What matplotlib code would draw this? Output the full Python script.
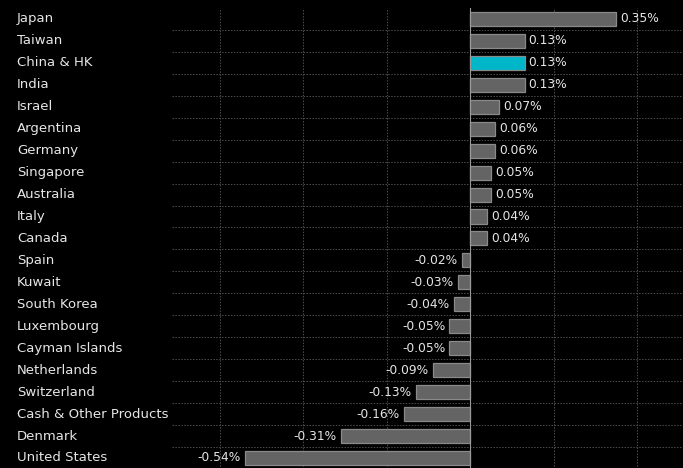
import matplotlib
matplotlib.use("Agg")
import matplotlib.pyplot as plt
import matplotlib.transforms as mtransforms

categories = ["Japan", "Taiwan", "China & HK", "India", "Israel", "Argentina",
              "Germany", "Singapore", "Australia", "Italy", "Canada", "Spain",
              "Kuwait", "South Korea", "Luxembourg", "Cayman Islands",
              "Netherlands", "Switzerland", "Cash & Other Products", "Denmark",
              "United States"]
values = [0.35, 0.13, 0.13, 0.13, 0.07, 0.06, 0.06, 0.05, 0.05, 0.04, 0.04,
          -0.02, -0.03, -0.04, -0.05, -0.05, -0.09, -0.13, -0.16, -0.31, -0.54]
highlight = "China & HK"

fig = plt.figure(figsize=(6.83, 4.68), dpi=100, facecolor="black")
ax = fig.add_axes([0.252, -0.002, 0.748, 0.985], facecolor="black")

n = len(categories)
ys = list(range(n))
colors = ["#00b7c9" if c == highlight else "#646464" for c in categories]
ax.barh(ys, values, height=0.64, color=colors, edgecolor="#8a8a8a",
        linewidth=0.9, zorder=3)

ax.set_xlim(-0.715, 0.51)
ax.set_ylim(n - 0.5, -0.5)

# grid
grid_kw = dict(color="#4e4e4e", linestyle=(0, (1.5, 1.5)), linewidth=0.7, zorder=1)
for gx in [-0.6, -0.4, -0.2, 0.2, 0.4]:
    ax.axvline(gx, **grid_kw)
ax.axvline(0, color="#9a9a9a", linewidth=0.8, zorder=4)
for i in range(n - 1):
    ax.axhline(i + 0.5, **grid_kw)

for s in ax.spines.values():
    s.set_visible(False)
ax.set_xticks([])
ax.set_yticks([])

trans = mtransforms.blended_transform_factory(fig.transFigure, ax.transData)
for y, c in zip(ys, categories):
    ax.text(17 / 683, y, c, transform=trans, ha="left", va="center",
            color="#e6e6e6", fontsize=9.5, clip_on=False)

for y, v in zip(ys, values):
    label = f"{v:.2f}%"
    if v >= 0:
        ax.annotate(label, (v, y), xytext=(3, 0), textcoords="offset points",
                    ha="left", va="center", color="#e6e6e6", fontsize=8.8)
    else:
        ax.annotate(label, (v, y), xytext=(-3, 0), textcoords="offset points",
                    ha="right", va="center", color="#e6e6e6", fontsize=8.8)

fig.savefig("out.png", dpi=100, facecolor="black")
